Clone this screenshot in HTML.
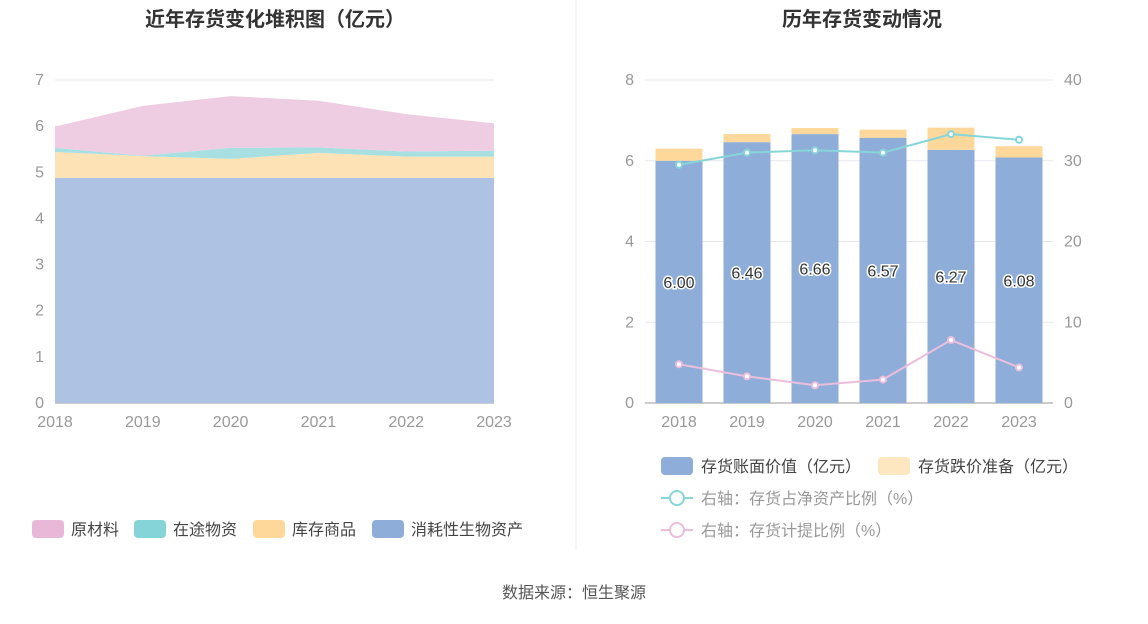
<!DOCTYPE html>
<html><head><meta charset="utf-8"><style>
body{margin:0;background:#fff;font-family:"Liberation Sans","Noto Sans CJK SC",sans-serif}
svg text{font-family:"Liberation Sans","Noto Sans CJK SC",sans-serif}
</style></head><body>
<svg id="s" width="1148" height="619">
<text x="275" y="26" text-anchor="middle" font-size="20" font-weight="bold" fill="#333">近年存货变化堆积图（亿元）</text>
<text x="862" y="26" text-anchor="middle" font-size="20" font-weight="bold" fill="#333">历年存货变动情况</text>
<line x1="576" y1="0" x2="576" y2="550" stroke="#eee"/>
<text x="574" y="598" text-anchor="middle" font-size="16" fill="#555">数据来源：恒生聚源</text>
<g id="L"></g><g id="R"></g>
</svg>
<script>
const years=["2018","2019","2020","2021","2022","2023"];
const bio=[4.88,4.88,4.88,4.88,4.88,4.88];
const goods=[0.56,0.47,0.41,0.54,0.46,0.46];
const transit=[0.09,0.01,0.24,0.12,0.11,0.13];
const raw=[0.46,1.08,1.12,1.01,0.81,0.59];
const leftTicks=[0,1,2,3,4,5,6,7];
const bookValue=[6.00,6.46,6.66,6.57,6.27,6.08];
const impairment=[0.30,0.20,0.15,0.20,0.55,0.28];
const ratioNet=[29.5,31.0,31.3,31.0,33.3,32.6];
const ratioProv=[4.8,3.3,2.2,2.9,7.8,4.4];
const rLeftTicks=[0,2,4,6,8];
const rRightTicks=[0,10,20,30,40];
const NS="http://www.w3.org/2000/svg";
function mk(p,tag,a,txt){const e=document.createElementNS(NS,tag);for(const k in a)e.setAttribute(k,a[k]);if(txt!==undefined)e.textContent=txt;p.appendChild(e);return e;}
const L=document.getElementById('L');
const lx=i=>55+i*(494-55)/5, ly=v=>403-v*(403-80)/7;
leftTicks.forEach(t=>{
 const g=mk(L,'line',{x1:55,x2:494,y1:ly(t),y2:ly(t),stroke:t?'#e6e8ee':'#999'});
 
 const tx=mk(L,'text',{x:44,y:ly(t)+5,'text-anchor':'end','font-size':16,fill:'#999'},t);
 
});
const series=[[bio,'#aec3e4','consumable-bio-assets-area'],[goods,'#fde2b6','goods-area'],[transit,'#a8e0e2','in-transit-area'],[raw,'#eeccE2','raw-material-area']];
let base=years.map(()=>0);
series.forEach(([d,c,n])=>{
 const top=base.map((b,i)=>b+d[i]);
 let p='M'+top.map((v,i)=>lx(i)+','+ly(v)).join('L');
 for(let i=5;i>=0;i--)p+='L'+lx(i)+','+ly(base[i]);
 const e=mk(L,'path',{d:p+'Z',fill:c});
 
 base=top;
});
years.forEach((y,i)=>{const t=mk(L,'text',{x:lx(i),y:427,'text-anchor':'middle','font-size':16,fill:'#999'},y);
 });
[['原材料','#e9b8d8',35],['在途物资','#85d5d8',137],['库存商品','#fdd89a',256],['消耗性生物资产','#8fadd9',375]].forEach(([t,c,x])=>{
 const g=mk(L,'g',{});
 mk(g,'rect',{x:x-3,y:520,width:32,height:18,rx:4,fill:c});
 mk(g,'text',{x:x+36,y:535,'font-size':16,fill:'#444'},t);
});
const R=document.getElementById('R');
const rx=i=>679+i*68, ry=v=>403-v*(403-80)/8, ry2=v=>403-v*(403-80)/40;
rLeftTicks.forEach((t,k)=>{
 const g=mk(R,'line',{x1:645,x2:1053,y1:ry(t),y2:ry(t),stroke:t?'#e6e8ee':'#999'});
 
 const a=mk(R,'text',{x:634,y:ry(t)+5,'text-anchor':'end','font-size':16,fill:'#999'},t);
 
 const b=mk(R,'text',{x:1064,y:ry2(rRightTicks[k])+5,'font-size':16,fill:'#999'},rRightTicks[k]);
 
});
years.forEach((y,i)=>{
 const b=mk(R,'rect',{x:rx(i)-23.5,y:ry(bookValue[i]),width:47,height:ry(0)-ry(bookValue[i]),fill:'#8fadd9'});
 
 const c=mk(R,'rect',{x:rx(i)-23.5,y:ry(bookValue[i]+impairment[i]),width:47,height:ry(bookValue[i])-ry(bookValue[i]+impairment[i]),fill:'#fdd89a'});
 
 const l=mk(R,'text',{x:rx(i),y:ry(bookValue[i]/2)+6,'text-anchor':'middle','font-size':16,fill:'#333',stroke:'#fff','stroke-width':3,'paint-order':'stroke'},bookValue[i].toFixed(2));
 
 const t=mk(R,'text',{x:rx(i),y:427,'text-anchor':'middle','font-size':16,fill:'#999'},y);
 
});
[[ratioNet,'#86d6d9','net-asset-ratio'],[ratioProv,'#ebbfdc','provision-ratio']].forEach(([d,c,n])=>{
 const p=mk(R,'polyline',{points:d.map((v,i)=>rx(i)+','+ry2(v)).join(' '),fill:'none',stroke:c,'stroke-width':2});
 
 d.forEach((v,i)=>{const m=mk(R,'circle',{cx:rx(i),cy:ry2(v),r:3,fill:'#fff',stroke:c,'stroke-width':2});
  });
});
[[661,466,'rect','#8fadd9','存货账面价值（亿元）'],[878,466,'rect','#fde7c0','存货跌价准备（亿元）'],[661,498,'line','#86d6d9','右轴：存货占净资产比例（%）'],[661,530,'line','#ebbfdc','右轴：存货计提比例（%）']].forEach(([x,y,k,c,t])=>{
 const g=mk(R,'g',{});
 if(k==='rect')mk(g,'rect',{x:x,y:y-9,width:32,height:18,rx:4,fill:c});
 else{mk(g,'line',{x1:x,x2:x+32,y1:y,y2:y,stroke:c,'stroke-width':2});mk(g,'circle',{cx:x+16,cy:y,r:7,fill:'#fff',stroke:c,'stroke-width':2});}
 mk(g,'text',{x:x+40,y:y+6,'font-size':16,fill:k==='rect'?'#444':'#999'},t);
});
</script>
</body></html>
